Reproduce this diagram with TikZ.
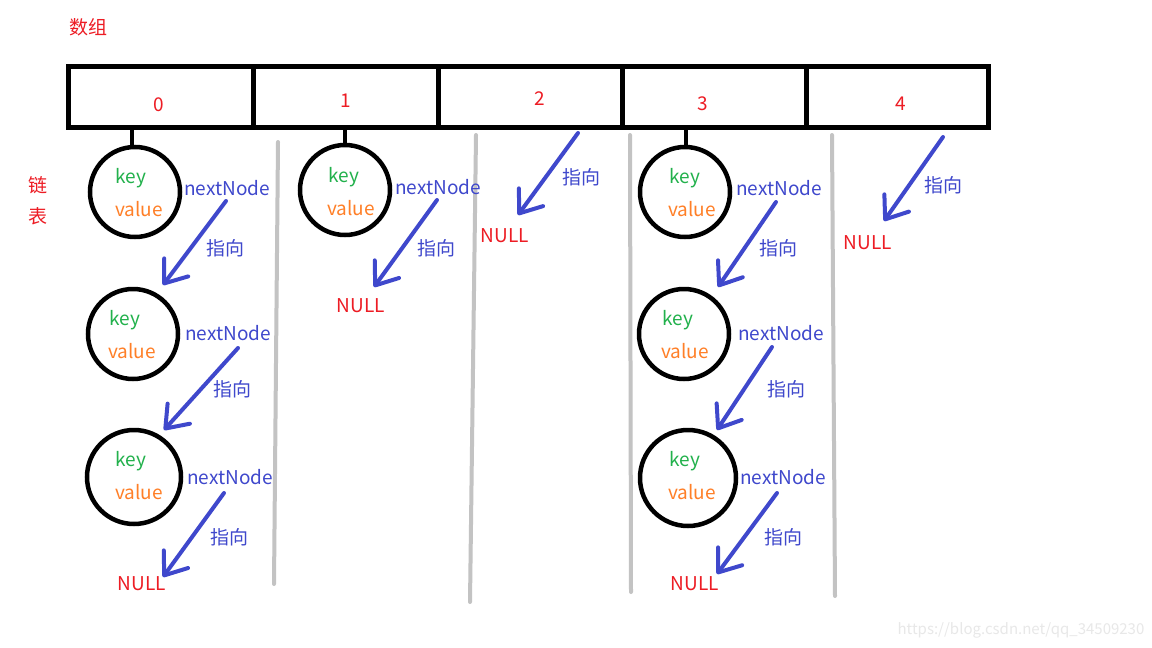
\documentclass[tikz,border=0pt]{standalone}
\usepackage{fontspec}
\setmainfont{Noto Sans CJK SC}
\usetikzlibrary{arrows.meta}
\definecolor{pred}{RGB}{237,28,36}
\definecolor{pblue}{RGB}{63,72,204}
\definecolor{pgreen}{RGB}{34,177,76}
\definecolor{porange}{RGB}{255,127,39}
\definecolor{pgray}{RGB}{195,195,195}
\tikzset{
  txt/.style={inner sep=0pt, font=\fontsize{19}{21}\selectfont},
  redtxt/.style={txt, text=pred},
  keytxt/.style={txt, text=pgreen},
  valtxt/.style={txt, text=porange},
  nexttxt/.style={txt, text=pblue},
  cell/.style={draw, line width=5pt, minimum height=61pt, inner sep=0pt},
  lnode/.style={draw, circle, line width=4.5pt, minimum size=90pt, inner sep=0pt},
  stem/.style={line width=4.5pt},
  sep/.style={draw=pgray, line width=4pt, line cap=round},
  ptr/.style={draw=pblue, line width=4pt, line cap=round,
    -{Straight Barb[length=20pt,width=30pt,round]}},
}
\begin{document}
\begin{tikzpicture}[x=1pt,y=-1pt]
\useasboundingbox (0,0) rectangle (1152,648);
\fill[white] (0,0) rectangle (1152,648);

% titles
\node[redtxt] (arr) at (88,27) {数组};
\node[redtxt] (lk1) at (38,185) {链};
\node[redtxt] (lk2) at (38,216) {表};

% array cells
\node[cell, minimum width=185pt] (c0) at (160.5,97) {};
\node[cell, minimum width=185pt] (c1) at (345.5,97) {};
\node[cell, minimum width=184pt] (c2) at (530,97) {};
\node[cell, minimum width=184pt] (c3) at (714,97) {};
\node[cell, minimum width=182pt] (c4) at (897,97) {};
\node[redtxt] (n0) at (159,105) {0};
\node[redtxt] (n1) at (346,101) {1};
\node[redtxt] (n2) at (540,99) {2};
\node[redtxt] (n3) at (703,104) {3};
\node[redtxt] (n4) at (901,104) {4};

% separators
\coordinate (s1a) at (278,142); \coordinate (s1b) at (274,584);
\coordinate (s2a) at (476,135); \coordinate (s2b) at (470,602);
\coordinate (s3a) at (630,135); \coordinate (s3b) at (631,592);
\coordinate (s4a) at (832,135); \coordinate (s4b) at (835,596);
\draw[sep] (s1a) -- (s1b);
\draw[sep] (s2a) -- (s2b);
\draw[sep] (s3a) -- (s3b);
\draw[sep] (s4a) -- (s4b);

% ---- column 0 ----
\node[lnode] (k00) at (135,192) {};
\node[lnode] (k01) at (133,334) {};
\node[lnode, minimum size=94pt] (k02) at (134,477) {};
\node[keytxt] at (131,178) {key};
\node[valtxt] at (139,209) {value};
\node[keytxt] at (125,320) {key};
\node[valtxt] at (132,351) {value};
\node[keytxt] at (131,461) {key};
\node[valtxt] at (139,492) {value};
\node[nexttxt] (nx00) at (227,188) {nextNode};
\node[nexttxt] (nx01) at (228,333) {nextNode};
\node[nexttxt] (nx02) at (230,477) {nextNode};
\node[nexttxt] (zx00) at (225,248) {指向};
\node[nexttxt] (zx01) at (232,389) {指向};
\node[nexttxt] (zx02) at (229,537) {指向};
\node[redtxt] (null0) at (142,584) {NULL};
\draw[stem] (c0.south -| 132,0) -- (132,148);
\coordinate (p00a) at (226,201); \coordinate (p00b) at (163,285);
\coordinate (p01a) at (238,348); \coordinate (p01b) at (164,430);
\coordinate (p02a) at (224,493); \coordinate (p02b) at (163,577);
\draw[ptr] (p00a) -- (p00b);
\draw[ptr] (p01a) -- (p01b);
\draw[ptr] (p02a) -- (p02b);

% ---- column 1 ----
\node[lnode] (k10) at (345,190) {};
\node[keytxt] at (344,177) {key};
\node[valtxt] at (351,208) {value};
\node[nexttxt] (nx10) at (438,187) {nextNode};
\node[nexttxt] (zx10) at (436,248) {指向};
\node[redtxt] (null1) at (361,306) {NULL};
\draw[stem] (c1.south -| 345,0) -- (345,146);
\coordinate (p10a) at (437,200); \coordinate (p10b) at (374,287);
\draw[ptr] (p10a) -- (p10b);

% ---- column 2 ----
\node[nexttxt] (zx20) at (581,177) {指向};
\node[redtxt] (null2) at (505,236) {NULL};
\coordinate (p20a) at (578,133); \coordinate (p20b) at (518,215);
\draw[ptr] (p20a) -- (p20b);

% ---- column 3 ----
\node[lnode] (k30) at (685,192) {};
\node[lnode] (k31) at (684,334) {};
\node[lnode, minimum size=96pt] (k32) at (688,478) {};
\node[keytxt] at (685,178) {key};
\node[valtxt] at (692,209) {value};
\node[keytxt] at (678,320) {key};
\node[valtxt] at (685,351) {value};
\node[keytxt] at (685,461) {key};
\node[valtxt] at (692,492) {value};
\node[nexttxt] (nx30) at (779,188) {nextNode};
\node[nexttxt] (nx31) at (781,333) {nextNode};
\node[nexttxt] (nx32) at (783,477) {nextNode};
\node[nexttxt] (zx30) at (778,248) {指向};
\node[nexttxt] (zx31) at (786,389) {指向};
\node[nexttxt] (zx32) at (783,537) {指向};
\node[redtxt] (null3) at (695,584) {NULL};
\draw[stem] (c3.south -| 686,0) -- (686,149);
\coordinate (p30a) at (776,202); \coordinate (p30b) at (718,287);
\coordinate (p31a) at (772,347); \coordinate (p31b) at (717,430);
\coordinate (p32a) at (777,493); \coordinate (p32b) at (717,574);
\draw[ptr] (p30a) -- (p30b);
\draw[ptr] (p31a) -- (p31b);
\draw[ptr] (p32a) -- (p32b);

% ---- column 4 ----
\node[nexttxt] (zx40) at (943,185) {指向};
\node[redtxt] (null4) at (868,243) {NULL};
\coordinate (p40a) at (943,137); \coordinate (p40b) at (884,221);
\draw[ptr] (p40a) -- (p40b);

% watermark
\node[txt, font=\fontsize{15}{16}\selectfont, text=black!9] (wm) at (1021,630) {https://blog.csdn.net/qq\_34509230};
\end{tikzpicture}
\end{document}
